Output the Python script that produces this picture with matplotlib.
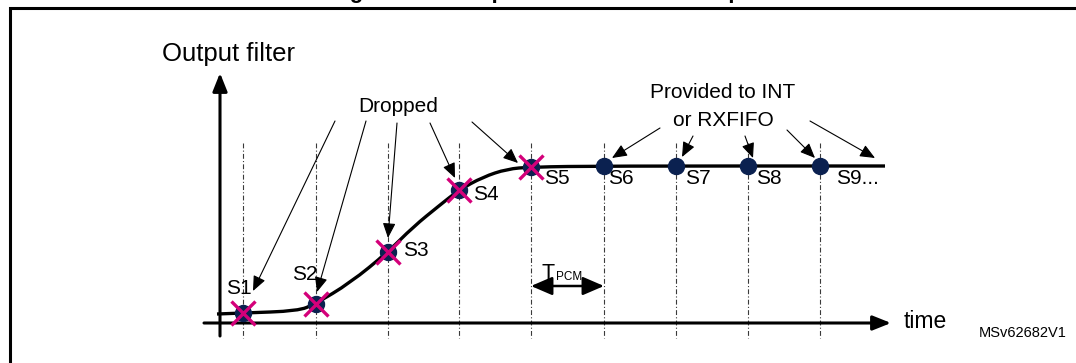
"""Exemplo de filtro de saída: amostras descartadas e fornecidas."""

import matplotlib
matplotlib.use("Agg")
import matplotlib.pyplot as plt
from matplotlib.path import Path
from matplotlib.patches import PathPatch

plt.rcParams['font.family'] = ['Liberation Sans', 'DejaVu Sans']
plt.rcParams['lines.scale_dashes'] = False

# Dados (coordenadas em pixels da imagem)
sample_labels = ['S1', 'S2', 'S3', 'S4', 'S5', 'S6', 'S7', 'S8', 'S9...']
sample_x = [243, 316, 388, 459, 531, 604, 676, 748, 820]
sample_y = [313, 304, 252, 190, 167, 166, 166, 166, 166]
dropped = [True, True, True, True, True, False, False, False, False]

curve_x = [217, 243, 298, 315, 350, 388, 413, 440, 459, 483, 507, 531, 604, 885]
curve_y = [314, 313, 311, 304, 283, 252, 227, 205, 190, 177, 169, 167, 166, 166]

label_pos = [(239, 289, 'center'), (305, 274, 'center'), (403, 251, 'left'),
             (473, 195, 'left'), (544, 179, 'left'), (608, 179, 'left'),
             (685, 179, 'left'), (756, 179, 'left'), (836, 179, 'left')]

dropped_arrows = [((335, 121), (253, 291)), ((366, 121), (317, 292)),
                  ((397, 123), (388, 238)), ((430, 123), (455, 178)),
                  ((472, 122), (518, 163))]
provided_arrows = [((660, 128), (612, 158)), ((693, 136), (682, 157)),
                   ((745, 136), (753, 158)), ((787, 130), (815, 158)),
                   ((810, 121), (875, 158))]

NAVY = '#0b2150'
MAGENTA = '#d4007a'

fig = plt.figure(figsize=(10.76, 3.63), dpi=100)
ax = fig.add_axes([0, 0, 1, 1])
ax.set_xlim(0, 1076)
ax.set_ylim(363, 0)
ax.axis('off')

# Moldura e título (cortado no topo, como no original)
ax.plot([10, 10, 1080], [370, 8, 8], color='black', lw=2.2, solid_joinstyle='miter')
ax.text(545, -2, 'Figure 207. Output filter discard example', ha='center', va='baseline',
        fontsize=16, fontweight='bold')

# Eixos
big_head = dict(arrowstyle='-|>,head_length=0.55,head_width=0.22', color='black', lw=2.2,
                mutation_scale=20, shrinkA=0, shrinkB=0)
ax.annotate('', xy=(220, 73), xytext=(220, 336), arrowprops=big_head)
ax.annotate('', xy=(891, 323), xytext=(204, 323), arrowprops=big_head)
ax.text(228, 54, 'Output filter', ha='center', va='center', fontsize=18.5)
ax.text(904, 321, 'time', ha='left', va='center', fontsize=16.5)
ax.text(1067, 333, 'MSv62682V1', ha='right', va='center', fontsize=10.5)

# Linhas verticais tracejadas
for x in sample_x:
    ax.plot([x, x], [143, 338], color='#3a3a3a', lw=0.8, ls=(0, (3.5, 1.6, 0.8, 1.6)))

# Curva suavizada
verts = [(curve_x[0], curve_y[0])]
codes = [Path.MOVETO]
for i in range(1, len(curve_x) - 1):
    mx = (curve_x[i] + curve_x[i + 1]) / 2
    my = (curve_y[i] + curve_y[i + 1]) / 2
    verts += [(curve_x[i], curve_y[i]), (mx, my)]
    codes += [Path.CURVE3, Path.CURVE3]
verts.append((curve_x[-1], curve_y[-1]))
codes.append(Path.LINETO)
ax.add_patch(PathPatch(Path(verts, codes), fill=False, lw=2.4, color='black', capstyle='butt'))

# Amostras
for x, y, d in zip(sample_x, sample_y, dropped):
    ax.plot(x, y, 'o', color=NAVY, ms=11.5, zorder=5)
    if d:
        ax.plot(x, y, 'x', color=MAGENTA, ms=17, mew=2.4, zorder=6)

for lab, (x, y, ha) in zip(sample_labels, label_pos):
    ax.text(x, y, lab, ha=ha, va='center', fontsize=15)

# Setas finas
thin_head = dict(arrowstyle='-|>,head_length=0.7,head_width=0.3', color='black', lw=0.8,
                 mutation_scale=13, shrinkA=0, shrinkB=0)
for start, end in dropped_arrows + provided_arrows:
    ax.annotate('', xy=end, xytext=start, arrowprops=thin_head)

ax.text(398, 107, 'Dropped', ha='center', va='center', fontsize=15)
ax.text(723, 93, 'Provided to INT', ha='center', va='center', fontsize=15)
ax.text(723, 120, 'or RXFIFO', ha='center', va='center', fontsize=15)

# T_PCM
pcm_head = dict(arrowstyle='<|-|>,head_length=0.65,head_width=0.28', color='black', lw=1.8,
                mutation_scale=20, shrinkA=0, shrinkB=0)
ax.annotate('', xy=(604, 286), xytext=(531, 286), arrowprops=pcm_head)
ax.text(542, 279, 'T', ha='left', va='baseline', fontsize=15.5)
ax.text(556, 280, 'PCM', ha='left', va='baseline', fontsize=8.5)

fig.savefig('out.png', dpi=100)
